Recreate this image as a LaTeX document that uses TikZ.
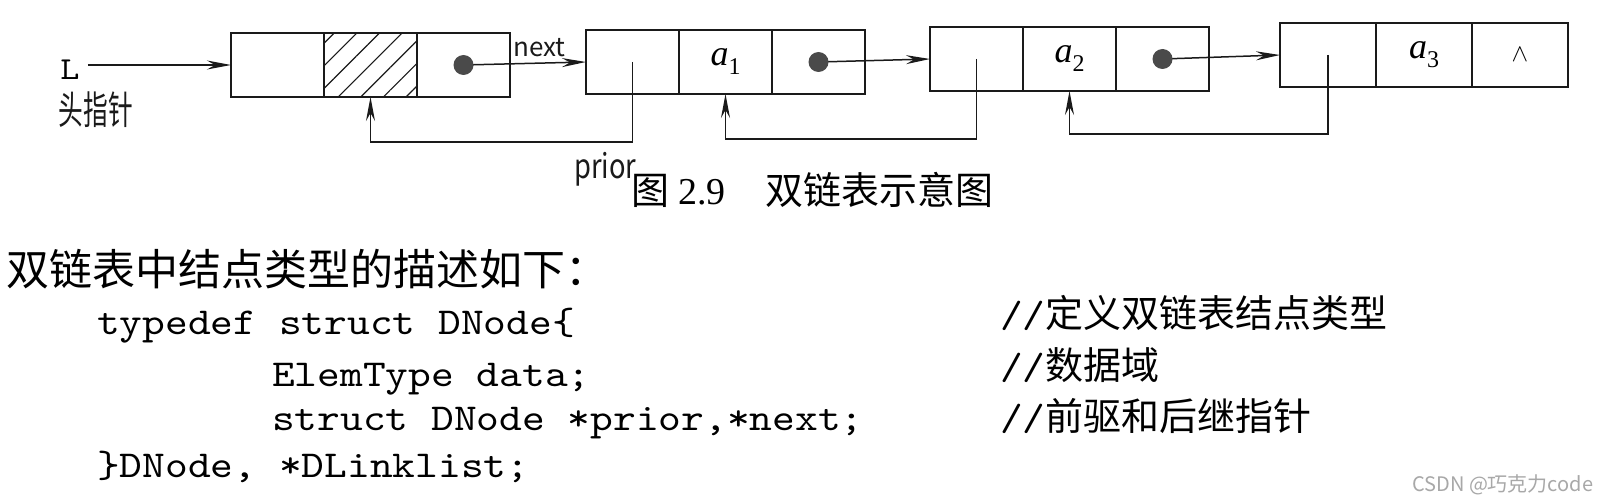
\documentclass[tikz,border=0pt]{standalone}
\usepackage{fontspec}
\setmainfont{Liberation Serif}
\setmonofont{lmmono10-regular.otf}[FakeStretch=1.14]
\newfontfamily\cjk{Noto Sans CJK SC}
\usetikzlibrary{positioning,arrows.meta,patterns.meta}
\definecolor{ink}{HTML}{1A1A1A}
\definecolor{dotgray}{HTML}{4A4A4A}
\definecolor{mark}{HTML}{A8A8A8}
\newcommand\datum[1]{\textit{a}\raisebox{-9pt}{\fontsize{24}{24}\selectfont #1}}

\tikzset{
  cell/.style={draw=ink,line width=2pt,minimum width=93pt,minimum height=64pt,inner sep=0pt,outer sep=0pt,font=\fontsize{36}{36}\selectfont},
  link/.style={draw=ink,line width=1.5pt,-{Stealth[length=24pt,width=9pt,inset=8pt]}},
  hand/.style={font=\cjk\fontsize{26}{26}\selectfont,text=ink,inner sep=0pt},
  prose/.style={font=\cjk\fontsize{43}{46}\selectfont,anchor=base west,inner sep=0pt},
  code/.style={font=\ttfamily\fontsize{38}{40}\selectfont,anchor=base west,inner sep=0pt},
  note/.style={font=\fontsize{38}{40}\selectfont,anchor=base west,inner sep=0pt},
}

\begin{document}
\begin{tikzpicture}[x=1pt,y=-1pt]
\path[fill=white,use as bounding box] (0,0) rectangle (1615,503);

% head node and the three list nodes
\node[cell] (hd1) at (277.5,65) {};
\node[cell,pattern={Lines[angle=45,distance=16pt,line width=1.2pt]},pattern color=ink,right=0pt of hd1] (hd2) {};
\node[cell,right=0pt of hd2] (hd3) {};
\node[cell] (n1p) at (632.5,62) {};
\node[cell,right=0pt of n1p] (n1d) {\datum{1}};
\node[cell,right=0pt of n1d] (n1n) {};
\node[cell] (n2p) at (976.5,59) {};
\node[cell,right=0pt of n2p] (n2d) {\datum{2}};
\node[cell,right=0pt of n2d] (n2n) {};
\node[cell,minimum width=96pt] (n3p) at (1328,55) {};
\node[cell,minimum width=96pt,right=0pt of n3p] (n3d) {\datum{3}};
\node[cell,minimum width=96pt,right=0pt of n3d,font=\fontsize{28}{28}\selectfont] (n3n) {$\wedge$};

% head pointer
\node[inner sep=0pt,font=\ttfamily\fontsize{32}{32}\selectfont] (lbl) at (70,70) {L};
\node[hand] (hptr) at (96,110) {\scalebox{0.95}[1.5]{头指针}};
\draw[link,shorten <=8pt] (lbl.east |- hd1.west) -- (hd1.west);

% next and prior links
\draw[link] (hd3.center) -- (n1p.west);
\draw[link] (n1n.center) -- (n2p.west);
\draw[link] (n2n.center) -- (n3p.west);
\draw[link] (n1p.center) -- ++(0,80) -| (hd2.south);
\draw[link] (n2p.center) -- ++(0,80) -| (n1d.south);
\draw[link] (n3p.center) -- ++(0,79) -| (n2d.south);
\foreach \c in {hd3,n1n,n2n} \fill[dotgray] (\c.center) circle (10pt);
\node[hand,above right=8pt and 3pt of hd3.east] (nxt) {next};
\node[hand,below left=58pt and -4pt of n1p.south] (prl) {\scalebox{1.05}[1.3]{prior}};

% caption and text below
\node[note] (cap) at (631,204) {{\cjk 图}\hspace{9pt}2.9\hspace{40pt}{\cjk 双链表示意图}};
\node[prose] (intro) at (6,285) {双链表中结点类型的描述如下：};
\node[code] (c1) at (97,334) {typedef struct DNode\{};
\node[code] (c2) at (272,386) {ElemType data;};
\node[code] (c3) at (272,430) {struct DNode *prior,*next;};
\node[code] (c4) at (97,477) {\}DNode, *DLinklist;};
\node[note] (m1) at (1000,327) {\ttfamily//\cjk 定义双链表结点类型};
\node[note] (m2) at (1000,379) {\ttfamily//\cjk 数据域};
\node[note] (m3) at (1000,430) {\ttfamily//\cjk 前驱和后继指针};
\node[anchor=base west,inner sep=0pt,text=mark,font=\cjk\fontsize{20}{20}\selectfont] (wm) at (1412,491) {CSDN @巧克力code};
\end{tikzpicture}
\end{document}
